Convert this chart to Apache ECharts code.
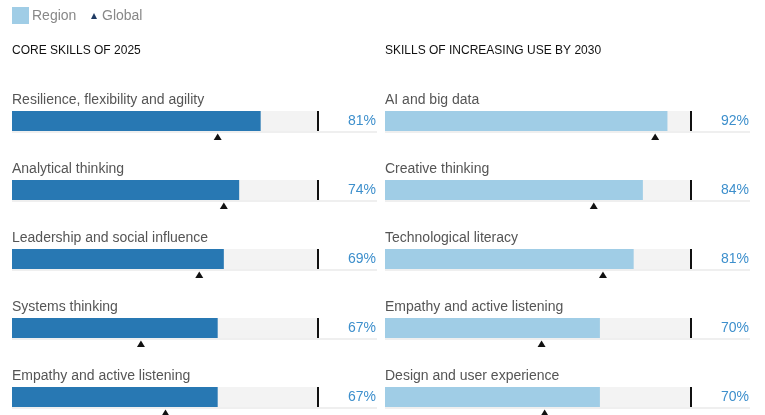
<!DOCTYPE html>
<html lang="en" style="height: 100%">
<head>
    <meta charset="UTF-8">
    <title>Skills</title>
    <script src="https://cdn.jsdelivr.net/npm/echarts@6/dist/echarts.min.js"></script>
</head>
<body style="height: 100%; margin: 0; background: #fff">
<div id="container" style="width: 765px; height: 415px"></div>

<script type="text/javascript">
    var dom = document.getElementById("container");
    var myChart = echarts.init(dom);

    var FONT = "'Liberation Sans', Arial, sans-serif";

    // core skills of 2025
    var coreSkills = ['Resilience, flexibility and agility', 'Analytical thinking', 'Leadership and social influence', 'Systems thinking', 'Empathy and active listening'];
    var coreRegion = [81, 74, 69, 67, 67];
    var coreGlobal = [67, 69, 61, 42, 50];

    // skills of increasing use by 2030
    var growthSkills = ['AI and big data', 'Creative thinking', 'Technological literacy', 'Empathy and active listening', 'Design and user experience'];
    var growthRegion = [92, 84, 81, 70, 70];
    var growthGlobal = [88, 68, 71, 51, 52];

    function rows(region, global) {
        return region.map(function (v, i) {
            return [v, i, global[i]];
        });
    }

    function makeRender(names, color) {
        return function (params, api) {
            var idx = api.value(1);
            var start = api.coord([0, idx]);
            var end = api.coord([api.value(0), idx]);
            var full = api.coord([100, idx]);
            var g = api.coord([api.value(2), idx]);
            var x0 = start[0], y = start[1];
            return {
                type: 'group',
                children: [
                    {type: 'rect', shape: {x: x0, y: y - 10, width: full[0] - x0, height: 20}, style: {fill: '#f3f3f3'}},
                    {type: 'rect', shape: {x: x0, y: y + 10, width: 365, height: 2}, style: {fill: '#efefef'}},
                    {type: 'rect', shape: {x: x0, y: y - 10, width: end[0] - x0, height: 20}, style: {fill: color}},
                    {type: 'rect', shape: {x: full[0] - 2, y: y - 10, width: 2, height: 20}, style: {fill: '#111'}},
                    {type: 'polygon', shape: {points: [[g[0] - 4, y + 19], [g[0] + 4, y + 19], [g[0], y + 12.5]]}, style: {fill: '#111'}},
                    {type: 'text', x: x0, y: y - 20.5, style: {text: names[params.dataIndex], fill: '#555', font: '14px ' + FONT, align: 'left', verticalAlign: 'middle'}},
                    {type: 'text', x: x0 + 364, y: y, style: {text: api.value(0) + '%', fill: '#3d8fcc', font: '14px ' + FONT, align: 'right', verticalAlign: 'middle'}}
                ]
            };
        };
    }

    var option = {
        animation: false,
        grid: [
            {left: 12, top: 86.5, width: 307, height: 310.5},
            {left: 385, top: 86.5, width: 307, height: 310.5}
        ],
        xAxis: [
            {gridIndex: 0, type: 'value', min: 0, max: 100, show: false},
            {gridIndex: 1, type: 'value', min: 0, max: 100, show: false}
        ],
        yAxis: [
            {gridIndex: 0, type: 'value', min: -0.5, max: 4, inverse: true, show: false},
            {gridIndex: 1, type: 'value', min: -0.5, max: 4, inverse: true, show: false}
        ],
        graphic: [
            {type: 'rect', left: 12, top: 7, shape: {width: 17, height: 17}, style: {fill: '#a0cde6'}},
            {type: 'text', x: 32, y: 16, style: {text: 'Region', fill: '#888', font: '14px ' + FONT, verticalAlign: 'middle'}},
            {type: 'polygon', shape: {points: [[91, 19], [97, 19], [94, 13]]}, style: {fill: '#1f3b63'}},
            {type: 'text', x: 102, y: 16, style: {text: 'Global', fill: '#888', font: '14px ' + FONT, verticalAlign: 'middle'}},
            {type: 'text', x: 12, y: 51, style: {text: 'CORE SKILLS OF 2025', fill: '#111', font: '12px ' + FONT, verticalAlign: 'middle'}},
            {type: 'text', x: 385, y: 51, style: {text: 'SKILLS OF INCREASING USE BY 2030', fill: '#111', font: '12px ' + FONT, verticalAlign: 'middle'}}
        ],
        series: [
            {
                name: 'Core', type: 'custom', xAxisIndex: 0, yAxisIndex: 0,
                renderItem: makeRender(coreSkills, '#2878b3'),
                encode: {x: 0, y: 1},
                data: rows(coreRegion, coreGlobal)
            },
            {
                name: 'Growth', type: 'custom', xAxisIndex: 1, yAxisIndex: 1,
                renderItem: makeRender(growthSkills, '#a0cde6'),
                encode: {x: 0, y: 1},
                data: rows(growthRegion, growthGlobal)
            }
        ]
    };

    myChart.setOption(option);
</script>
</body>
</html>
